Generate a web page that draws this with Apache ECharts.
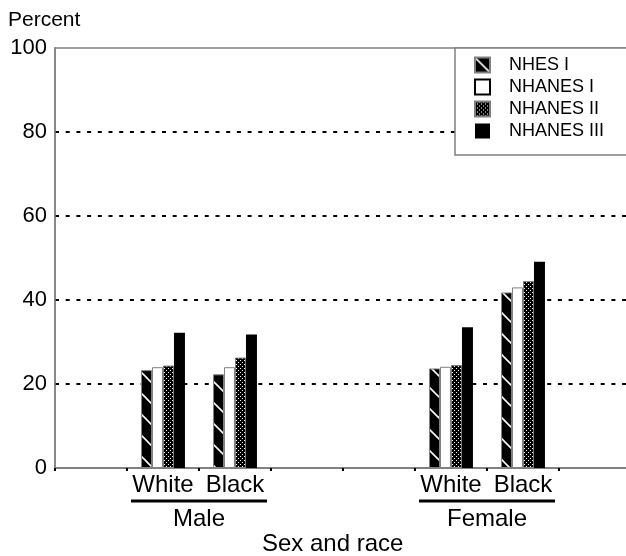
<!DOCTYPE html>
<html><head><meta charset="utf-8">
<script src="https://cdn.jsdelivr.net/npm/echarts@6/dist/echarts.min.js"></script>
<style>html,body{margin:0;padding:0;background:#fff}#c{width:626px;height:556px}</style>
</head><body><div id="c"></div>
<script>
// ---- data ----
const categories = ['', 'White', 'Black', '', '', 'White', 'Black', ''];
const groupLabels = ['', '', 'Male', '', '', '', 'Female', '', ''];
const groupSpans = [[1, 2], [5, 6]];
const seriesNames = ['NHES I', 'NHANES I', 'NHANES II', 'NHANES III'];
const nhesI     = [null, 23.3, 22.3, null, null, 23.7, 41.8, null];
const nhanesI   = [null, 24.0, 24.0, null, null, 24.1, 43.0, null];
const nhanesII  = [null, 24.4, 26.3, null, null, 24.5, 44.5, null];
const nhanesIII = [null, 32.2, 31.8, null, null, 33.5, 49.1, null];
const yMin = 0, yMax = 100, yStep = 20;
const yTitle = 'Percent';
const xTitle = 'Sex and race';

// ---- patterns ----
function stripePattern() {
  const P = 21, c = document.createElement('canvas');
  c.width = P; c.height = P;
  const g = c.getContext('2d');
  g.fillStyle = '#000'; g.fillRect(0, 0, P, P);
  g.strokeStyle = '#fff'; g.lineWidth = 1.6;
  [-P, 0, P].forEach(function (k) {
    g.beginPath(); g.moveTo(-2, -2 + k); g.lineTo(P + 2, P + 2 + k); g.stroke();
  });
  return c;
}
function dotPattern() {
  const c = document.createElement('canvas');
  c.width = 4; c.height = 4;
  const g = c.getContext('2d');
  g.fillStyle = '#000'; g.fillRect(0, 0, 4, 4);
  g.fillStyle = '#fff'; g.fillRect(0, 0, 1, 1); g.fillRect(2, 2, 1, 1);
  return c;
}

const FONT = "'Liberation Sans', Arial, sans-serif";
const chart = echarts.init(document.getElementById('c'), null, {renderer: 'canvas'});
const GRAY = '#808080';

const datasets = [nhesI, nhanesI, nhanesII, nhanesIII];
const styles = [
  {color: {image: stripePattern(), repeat: 'repeat'}, borderColor: GRAY, borderWidth: 1},
  {color: '#fff', borderColor: GRAY, borderWidth: 1},
  {color: {image: dotPattern(), repeat: 'repeat'}, borderColor: GRAY, borderWidth: 1},
  {color: '#000', borderColor: '#000', borderWidth: 0}
];

const option = {
  animation: false,
  backgroundColor: '#fff',
  textStyle: {fontFamily: FONT},
  title: [
    {text: yTitle, left: 8, top: 10, textStyle: {fontFamily: FONT, fontSize: 21, fontWeight: 'normal', color: '#000'}, padding: 0},
    {text: xTitle, left: 262, top: 532, textStyle: {fontFamily: FONT, fontSize: 24, fontWeight: 'normal', color: '#000'}, padding: 0}
  ],
  grid: {left: 55, top: 48, width: 576, height: 420, show: true, borderColor: GRAY, borderWidth: 1.5,
         backgroundColor: 'transparent', outerBoundsMode: 'none', containLabel: false},
  legend: {
    orient: 'vertical', left: 455, top: 47,
    padding: [9, 10, 9, 19],
    itemWidth: 15, itemHeight: 15, itemGap: 4,
    icon: 'rect',
    backgroundColor: 'transparent', borderWidth: 0,
    textStyle: {fontFamily: FONT, fontSize: 18, color: '#000', padding: [0, 0, 0, 14]},
    data: seriesNames.map(function (n, i) {
      return i === 1 ? {name: n, itemStyle: {borderColor: '#000', borderWidth: 2}} : {name: n};
    })
  },
  graphic: [{
    type: 'rect', z: 3,
    shape: {x: 455, y: 48, width: 220, height: 107},
    style: {fill: '#fff', stroke: GRAY, lineWidth: 1.5}
  }],
  xAxis: [
    {
      type: 'category', data: categories, gridIndex: 0,
      axisLine: {lineStyle: {color: GRAY, width: 2}},
      axisTick: {show: true, length: 3, lineStyle: {color: '#000', width: 2}},
      axisLabel: {fontFamily: FONT, fontSize: 24, color: '#000', margin: 5, interval: 0},
      splitLine: {show: false}
    },
    {
      type: 'category', data: groupLabels, boundaryGap: false, position: 'bottom', offset: 35,
      axisLine: {show: false}, axisTick: {show: false}, splitLine: {show: false},
      axisLabel: {fontFamily: FONT, fontSize: 24, color: '#000', margin: 4, interval: 0}
    }
  ],
  yAxis: {
    type: 'value', min: yMin, max: yMax, interval: yStep,
    axisLine: {show: true, lineStyle: {color: GRAY, width: 1.5}},
    axisTick: {show: false},
    axisLabel: {fontFamily: FONT, fontSize: 22, color: '#000', margin: 8},
    splitLine: {show: true, showMinLine: false, showMaxLine: false, lineStyle: {color: '#000', width: 2, type: [4, 6.7]}}
  },
  series: seriesNames.map(function (n, i) {
    return {
      name: n, type: 'bar', data: datasets[i], xAxisIndex: 0,
      barGap: '0%', barCategoryGap: '39%',
      itemStyle: styles[i]
    };
  })
};
chart.setOption(option);

// group underlines computed from the category scale
const y0 = chart.convertToPixel({yAxisIndex: 0}, yMin);
const c0 = chart.convertToPixel({xAxisIndex: 0}, 0);
const c1 = chart.convertToPixel({xAxisIndex: 0}, 1);
const band = c1 - c0;
const lines = groupSpans.map(function (s) {
  const a = chart.convertToPixel({xAxisIndex: 0}, s[0]) - band / 2 + 4;
  const b = chart.convertToPixel({xAxisIndex: 0}, s[1]) + band / 2 - 4;
  return {type: 'line', shape: {x1: a, y1: y0 + 33, x2: b, y2: y0 + 33}, style: {stroke: '#000', lineWidth: 3}};
});
chart.setOption({graphic: option.graphic.concat(lines)});
</script></body></html>
